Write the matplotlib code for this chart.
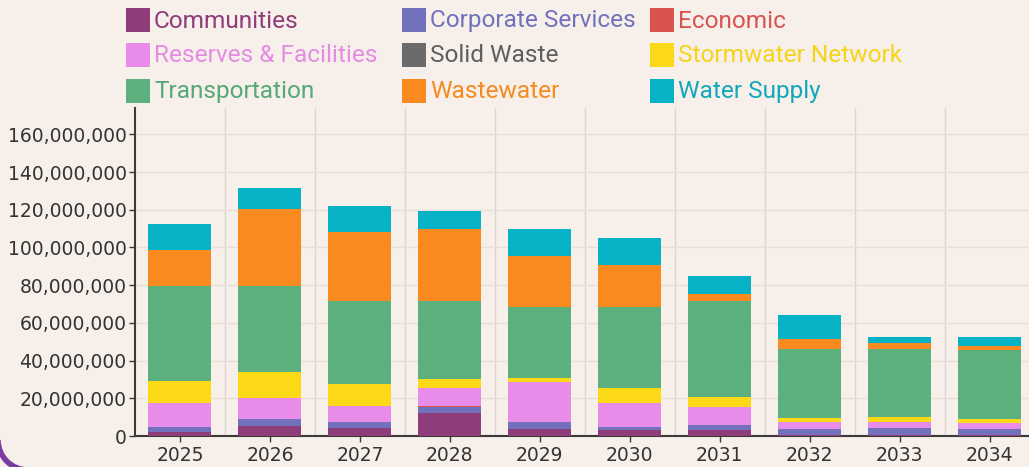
import matplotlib
matplotlib.use("Agg")
import matplotlib.pyplot as plt
from matplotlib.patches import Rectangle, Arc
from matplotlib.ticker import FuncFormatter

# Capital programme by activity, per year (NZD)
years = ["2025", "2026", "2027", "2028", "2029", "2030", "2031", "2032", "2033", "2034"]

communities = [2.3e6, 5.3e6, 4.1e6, 12.4e6, 3.7e6, 3.2e6, 3.0e6, 0.5e6, 0.5e6, 0.5e6]
corporate_services = [2.6e6, 3.5e6, 3.5e6, 3.1e6, 3.5e6, 1.7e6, 2.8e6, 3.1e6, 3.6e6, 3.2e6]
economic = [0, 0, 0, 0.5e6, 0, 0, 0, 0, 0, 0]
reserves_facilities = [12.4e6, 11.2e6, 8.5e6, 9.3e6, 21.3e6, 12.4e6, 9.7e6, 3.7e6, 3.5e6, 3.0e6]
solid_waste = [0, 0, 0, 0, 0, 0, 0, 0, 0, 0]
stormwater_network = [11.9e6, 13.8e6, 11.3e6, 4.8e6, 2.4e6, 8.3e6, 5.0e6, 2.1e6, 2.3e6, 2.2e6]
transportation = [50.5e6, 45.7e6, 44.4e6, 41.7e6, 37.7e6, 42.6e6, 51.1e6, 36.6e6, 36.2e6, 36.7e6]
wastewater = [18.9e6, 41.0e6, 36.5e6, 38.0e6, 26.8e6, 22.5e6, 3.7e6, 5.3e6, 3.0e6, 2.3e6]
water_supply = [13.8e6, 11.2e6, 13.7e6, 9.5e6, 14.4e6, 14.1e6, 9.5e6, 12.9e6, 3.6e6, 4.8e6]

series_names = ["Communities", "Corporate Services", "Economic",
                "Reserves & Facilities", "Solid Waste", "Stormwater Network",
                "Transportation", "Wastewater", "Water Supply"]
series_values = [communities, corporate_services, economic,
                 reserves_facilities, solid_waste, stormwater_network,
                 transportation, wastewater, water_supply]
series_colors = ["#8E3C7A", "#7171BE", "#D9534F",
                 "#E98BE8", "#6B6B6B", "#FCD916",
                 "#5BB07E", "#F98A1F", "#08B2C6"]
label_colors = ["#8E3C7A", "#7171BE", "#D9534F",
                "#E58BE4", "#5E5E5E", "#F5D41A",
                "#55A877", "#F58A22", "#12A8BC"]

BG = "#F7EFE9"
W, H = 1029, 467
fig = plt.figure(figsize=(W / 100, H / 100), dpi=100, facecolor=BG)

ax = fig.add_axes([135 / W, 1 - 436 / H, (1034.5 - 135) / W, (436 - 108) / H])
ax.set_facecolor(BG)

x = list(range(len(years)))
bottom = [0.0] * len(years)
for vals, col in zip(series_values, series_colors):
    ax.bar(x, vals, width=0.7, bottom=bottom, color=col, linewidth=0, zorder=3)
    bottom = [b + v for b, v in zip(bottom, vals)]

ax.set_xlim(-0.5, len(years) - 0.5)
ax.set_ylim(0, 174e6)
ax.set_yticks([i * 20e6 for i in range(9)])
ax.yaxis.set_major_formatter(FuncFormatter(lambda v, p: f"{int(v):,}"))
ax.set_xticks(x)
ax.set_xticklabels(years)

# Category boundaries as vertical grid lines
ax.set_xticks([i + 0.5 for i in range(len(years) - 1)], minor=True)
ax.grid(axis="x", which="minor", color="#DDD5CF", linewidth=1, zorder=0)
ax.grid(axis="y", which="major", color="#E8DFD9", linewidth=1, zorder=0)
ax.tick_params(axis="x", which="minor", length=0)

for s in ["top", "right"]:
    ax.spines[s].set_visible(False)
for s in ["left", "bottom"]:
    ax.spines[s].set_color("#3A3A3A")
    ax.spines[s].set_linewidth(1.5)

ax.tick_params(axis="both", which="major", colors="#3A3A3A", labelcolor="#333333",
               labelsize=13.5, length=4, width=1)
ax.tick_params(axis="y", pad=2)
for lbl in ax.get_yticklabels() + ax.get_xticklabels():
    lbl.set_fontfamily("DejaVu Sans")

# Legend laid out in a 3 x 3 grid
col_x = [126, 402, 650]
row_y = [20, 55, 91]
sq = 24
for i, (name, col, tcol) in enumerate(zip(series_names, series_colors, label_colors)):
    r, c = divmod(i, 3)
    x0, yc = col_x[c], row_y[r]
    fig.patches.append(Rectangle((x0 / W, 1 - (yc + sq / 2) / H), sq / W, sq / H,
                                 transform=fig.transFigure, facecolor=col,
                                 edgecolor="none"))
    fig.text((x0 + sq + 4) / W, 1 - (yc + 1) / H, name, color=tcol, fontsize=17.6,
             family="Roboto", va="center", ha="left")

# Rounded frame corner peeking in at the lower left
fig.patches.append(Arc((28 / W, 1 - 440 / H), 60 / W, 60 / H,
                       theta1=180, theta2=270, transform=fig.transFigure,
                       color="#7A3BA0", linewidth=4))

fig.savefig("out.png", dpi=100, facecolor=BG)
